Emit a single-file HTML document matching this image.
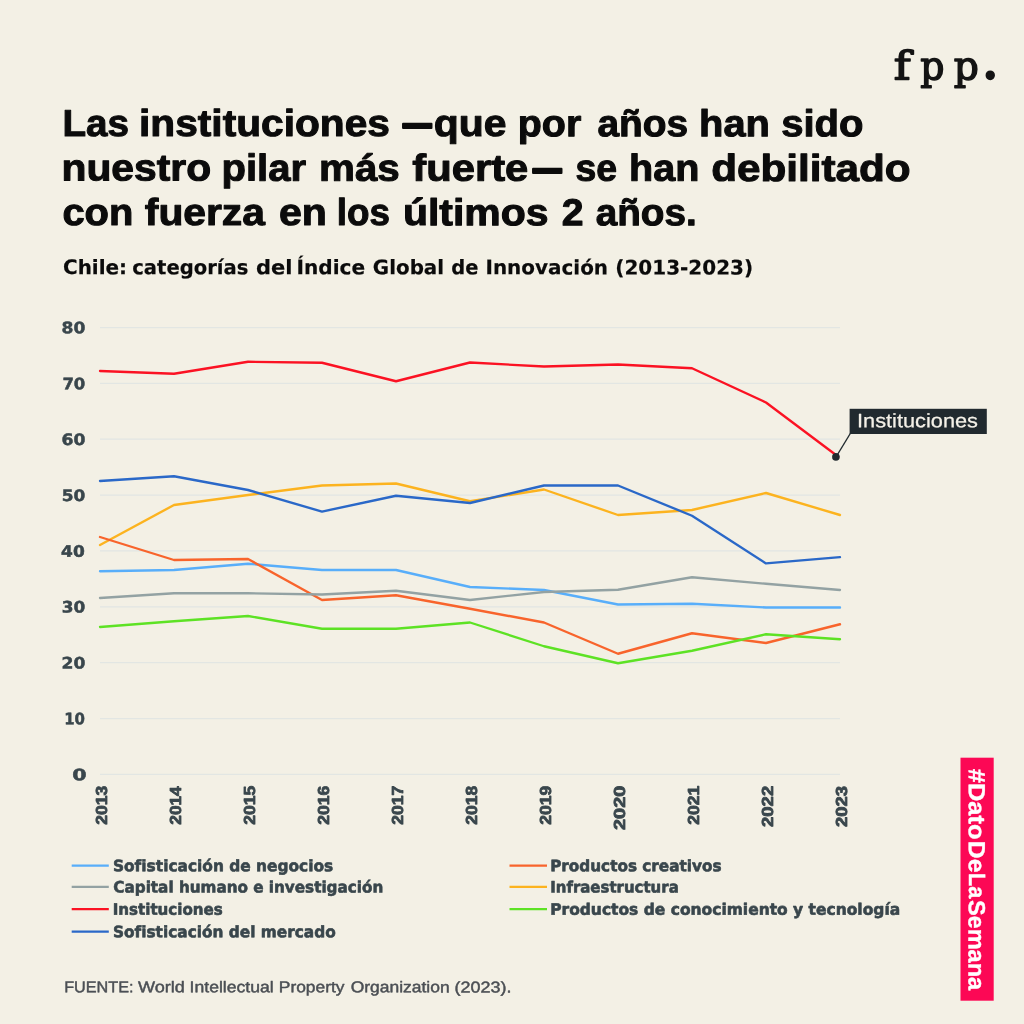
<!DOCTYPE html>
<html lang="es"><head><meta charset="utf-8"><title>Dato de la semana</title>
<style>
html,body{margin:0;padding:0;background:#f3f0e5;}
body{width:1024px;height:1024px;overflow:hidden;position:relative;font-family:"Liberation Sans",sans-serif;}
svg{position:absolute;left:0;top:0;display:block}
</style></head><body>
<svg width="1024" height="1024" viewBox="0 0 1024 1024">
<rect width="1024" height="1024" fill="#f3f0e5"/>
<text id="logo" transform="translate(944.0,79.6) rotate(0.03)" font-family="'DejaVu Serif','Liberation Serif',serif" font-weight="normal" font-size="39.5" fill="#141414" stroke="#141414" stroke-width="1.5" stroke-linejoin="round"><tspan x="-50.28" y="0" textLength="16.85" lengthAdjust="spacingAndGlyphs">f</tspan><tspan x="-23.68" y="0" textLength="24.22" lengthAdjust="spacingAndGlyphs">p</tspan><tspan x="9.71" y="0" textLength="25.07" lengthAdjust="spacingAndGlyphs">p</tspan><tspan x="36.39" font-size="63.5" y="-1.1" textLength="19.50" lengthAdjust="spacingAndGlyphs">.</tspan></text>
<g id="title">
<text transform="translate(463.55,136.10) rotate(0.03)" font-family="'Liberation Sans',sans-serif" font-weight="bold" font-size="37.6" fill="#0b0b0b" stroke="#0b0b0b" stroke-width="1.0" stroke-linejoin="round"><tspan x="-401.08" textLength="66.61" lengthAdjust="spacingAndGlyphs">Las</tspan> <tspan x="-324.54" textLength="250.85" lengthAdjust="spacingAndGlyphs">instituciones</tspan> <tspan x="-60.55" textLength="28.50" lengthAdjust="spacingAndGlyphs" stroke-width="2.6">—</tspan><tspan x="-29.78" textLength="72.66" lengthAdjust="spacingAndGlyphs">que</tspan> <tspan x="54.28" textLength="63.45" lengthAdjust="spacingAndGlyphs">por</tspan> <tspan x="133.87" textLength="90.71" lengthAdjust="spacingAndGlyphs">años</tspan> <tspan x="235.51" textLength="70.85" lengthAdjust="spacingAndGlyphs">han</tspan> <tspan x="317.65" textLength="82.33" lengthAdjust="spacingAndGlyphs">sido</tspan></text>
<text transform="translate(486.62,180.75) rotate(0.03)" font-family="'Liberation Sans',sans-serif" font-weight="bold" font-size="37.6" fill="#0b0b0b" stroke="#0b0b0b" stroke-width="1.0" stroke-linejoin="round"><tspan x="-425.12" textLength="149.59" lengthAdjust="spacingAndGlyphs">nuestro</tspan> <tspan x="-265.08" textLength="84.52" lengthAdjust="spacingAndGlyphs">pilar</tspan> <tspan x="-167.60" textLength="80.79" lengthAdjust="spacingAndGlyphs">más</tspan> <tspan x="-74.33" textLength="115.97" lengthAdjust="spacingAndGlyphs">fuerte</tspan><tspan x="46.37" textLength="28.50" lengthAdjust="spacingAndGlyphs" stroke-width="2.6">—</tspan> <tspan x="88.88" textLength="41.58" lengthAdjust="spacingAndGlyphs">se</tspan> <tspan x="142.45" textLength="70.32" lengthAdjust="spacingAndGlyphs">han</tspan> <tspan x="224.61" textLength="199.41" lengthAdjust="spacingAndGlyphs">debilitado</tspan></text>
<text transform="translate(378.95,225.10) rotate(0.03)" font-family="'Liberation Sans',sans-serif" font-weight="bold" font-size="37.6" fill="#0b0b0b" stroke="#0b0b0b" stroke-width="1.0" stroke-linejoin="round"><tspan x="-316.55" textLength="70.90" lengthAdjust="spacingAndGlyphs">con</tspan> <tspan x="-234.15" textLength="120.15" lengthAdjust="spacingAndGlyphs">fuerza</tspan> <tspan x="-99.98" textLength="47.96" lengthAdjust="spacingAndGlyphs">en</tspan> <tspan x="-42.22" textLength="53.12" lengthAdjust="spacingAndGlyphs">los</tspan> <tspan x="24.00" textLength="145.60" lengthAdjust="spacingAndGlyphs">últimos</tspan> <tspan x="182.77" textLength="21.81" lengthAdjust="spacingAndGlyphs">2</tspan> <tspan x="216.72" textLength="101.03" lengthAdjust="spacingAndGlyphs">años.</tspan></text>
</g>
<g id="subtitle">
<text transform="translate(407.70,274.30) rotate(0.03)" font-family="'DejaVu Sans','Liberation Sans',sans-serif" font-weight="bold" font-size="20.0" fill="#0b0b0b" stroke="#0b0b0b" stroke-width="0.2" stroke-linejoin="round"><tspan x="-344.70" textLength="64.08" lengthAdjust="spacingAndGlyphs">Chile:</tspan> <tspan x="-275.48" textLength="116.12" lengthAdjust="spacingAndGlyphs">categorías</tspan> <tspan x="-151.79" textLength="36.45" lengthAdjust="spacingAndGlyphs">del</tspan> <tspan x="-111.16" textLength="68.58" lengthAdjust="spacingAndGlyphs">Índice</tspan> <tspan x="-34.84" textLength="71.21" lengthAdjust="spacingAndGlyphs">Global</tspan> <tspan x="43.52" textLength="27.14" lengthAdjust="spacingAndGlyphs">de</tspan> <tspan x="77.80" textLength="122.57" lengthAdjust="spacingAndGlyphs">Innovación</tspan> <tspan x="207.60" textLength="137.81" lengthAdjust="spacingAndGlyphs">(2013-2023)</tspan></text>
</g>
<g id="grid">
<line x1="100" x2="840" y1="327.50" y2="327.50" stroke="#e2e6e3" stroke-width="1.25"/>
<text transform="translate(61.53,333.30) rotate(0.03) scale(1.0829,1)" font-family="'DejaVu Sans','Liberation Sans',sans-serif" font-weight="bold" font-size="15.8" fill="#39464c" stroke="#39464c" stroke-width="0.5" stroke-linejoin="round">80</text>
<line x1="100" x2="840" y1="383.36" y2="383.36" stroke="#e2e6e3" stroke-width="1.25"/>
<text transform="translate(62.38,389.16) rotate(0.03) scale(1.0436,1)" font-family="'DejaVu Sans','Liberation Sans',sans-serif" font-weight="bold" font-size="15.8" fill="#39464c" stroke="#39464c" stroke-width="0.5" stroke-linejoin="round">70</text>
<line x1="100" x2="840" y1="439.22" y2="439.22" stroke="#e2e6e3" stroke-width="1.25"/>
<text transform="translate(61.43,445.02) rotate(0.03) scale(1.0877,1)" font-family="'DejaVu Sans','Liberation Sans',sans-serif" font-weight="bold" font-size="15.8" fill="#39464c" stroke="#39464c" stroke-width="0.5" stroke-linejoin="round">60</text>
<line x1="100" x2="840" y1="495.08" y2="495.08" stroke="#e2e6e3" stroke-width="1.25"/>
<text transform="translate(61.78,500.88) rotate(0.03) scale(1.0711,1)" font-family="'DejaVu Sans','Liberation Sans',sans-serif" font-weight="bold" font-size="15.8" fill="#39464c" stroke="#39464c" stroke-width="0.5" stroke-linejoin="round">50</text>
<line x1="100" x2="840" y1="550.94" y2="550.94" stroke="#e2e6e3" stroke-width="1.25"/>
<text transform="translate(61.09,556.74) rotate(0.03) scale(1.0755,1)" font-family="'DejaVu Sans','Liberation Sans',sans-serif" font-weight="bold" font-size="15.8" fill="#39464c" stroke="#39464c" stroke-width="0.5" stroke-linejoin="round">40</text>
<line x1="100" x2="840" y1="606.80" y2="606.80" stroke="#e2e6e3" stroke-width="1.25"/>
<text transform="translate(61.75,612.60) rotate(0.03) scale(1.0726,1)" font-family="'DejaVu Sans','Liberation Sans',sans-serif" font-weight="bold" font-size="15.8" fill="#39464c" stroke="#39464c" stroke-width="0.5" stroke-linejoin="round">30</text>
<line x1="100" x2="840" y1="662.66" y2="662.66" stroke="#e2e6e3" stroke-width="1.25"/>
<text transform="translate(61.49,668.46) rotate(0.03) scale(1.0850,1)" font-family="'DejaVu Sans','Liberation Sans',sans-serif" font-weight="bold" font-size="15.8" fill="#39464c" stroke="#39464c" stroke-width="0.5" stroke-linejoin="round">20</text>
<line x1="100" x2="840" y1="718.52" y2="718.52" stroke="#e2e6e3" stroke-width="1.25"/>
<text transform="translate(64.18,724.32) rotate(0.03) scale(0.9456,1)" font-family="'DejaVu Sans','Liberation Sans',sans-serif" font-weight="bold" font-size="15.8" fill="#39464c" stroke="#39464c" stroke-width="0.5" stroke-linejoin="round">10</text>
<line x1="100" x2="840" y1="774.38" y2="774.38" stroke="#e2e6e3" stroke-width="1.25"/>
<text transform="translate(72.28,780.18) rotate(0.03) scale(1.3057,1)" font-family="'DejaVu Sans','Liberation Sans',sans-serif" font-weight="bold" font-size="15.8" fill="#39464c" stroke="#39464c" stroke-width="0.5" stroke-linejoin="round">0</text>
</g>
<g id="series" fill="none" stroke-width="2.35" stroke-linejoin="round" stroke-linecap="round">
<polyline stroke="#fcb31f" points="100.0,545.00 174.0,505.00 248.0,495.00 322.0,485.50 396.0,483.50 470.0,501.25 544.0,489.50 618.0,515.00 692.0,510.00 766.0,493.00 840.0,515.00"/>
<polyline stroke="#58aefa" points="100.0,571.25 174.0,570.00 248.0,563.75 322.0,570.00 396.0,570.00 470.0,587.00 544.0,590.00 618.0,604.50 692.0,603.75 766.0,607.50 840.0,607.50"/>
<polyline stroke="#f8642c" points="100.0,537.00 174.0,560.00 248.0,559.00 322.0,600.00 396.0,595.25 470.0,608.75 544.0,622.50 618.0,653.75 692.0,633.25 766.0,643.00 840.0,624.25"/>
<polyline stroke="#93a2a3" points="100.0,598.00 174.0,593.25 248.0,593.25 322.0,594.50 396.0,590.75 470.0,600.00 544.0,592.00 618.0,589.75 692.0,577.25 766.0,583.75 840.0,590.00"/>
<polyline stroke="#5de224" points="100.0,627.00 174.0,621.25 248.0,616.00 322.0,628.75 396.0,628.75 470.0,622.50 544.0,646.25 618.0,663.25 692.0,650.75 766.0,634.25 840.0,639.25"/>
<polyline stroke="#2a68c8" points="100.0,481.00 174.0,476.25 248.0,490.00 322.0,511.60 396.0,495.75 470.0,503.00 544.0,485.50 618.0,485.50 692.0,515.75 766.0,563.40 840.0,557.10"/>
<polyline stroke="#fb1223" points="100.0,371.00 174.0,373.75 248.0,361.75 322.0,362.75 396.0,381.25 470.0,362.50 544.0,366.50 618.0,364.50 692.0,368.25 766.0,402.50 838.3,456.70"/>
</g>
<line x1="836" y1="457" x2="850.3" y2="433.5" stroke="#212a2f" stroke-width="1.4"/>
<circle cx="835.9" cy="456.9" r="3.8" fill="#212a2f"/>
<rect x="849.6" y="408.8" width="137.2" height="25.2" fill="#212a2f"/>
<text transform="translate(857.05,427.30) rotate(0.03) scale(1.1218,1)" font-family="'Liberation Sans',sans-serif" font-weight="normal" font-size="19.4" fill="#f4f1e8" stroke="#f4f1e8" stroke-width="0.25" stroke-linejoin="round">Instituciones</text>
<g id="xlabels">
<text transform="translate(107.00,824.67) rotate(-89.97) scale(1.0913,1)" font-family="'Liberation Sans',sans-serif" font-weight="bold" font-size="16.0" fill="#39464c" stroke="#39464c" stroke-width="0.8" stroke-linejoin="round">2013</text>
<text transform="translate(181.00,824.67) rotate(-89.97) scale(1.0766,1)" font-family="'Liberation Sans',sans-serif" font-weight="bold" font-size="16.0" fill="#39464c" stroke="#39464c" stroke-width="0.8" stroke-linejoin="round">2014</text>
<text transform="translate(255.00,824.67) rotate(-89.97) scale(1.0888,1)" font-family="'Liberation Sans',sans-serif" font-weight="bold" font-size="16.0" fill="#39464c" stroke="#39464c" stroke-width="0.8" stroke-linejoin="round">2015</text>
<text transform="translate(329.00,824.67) rotate(-89.97) scale(1.0913,1)" font-family="'Liberation Sans',sans-serif" font-weight="bold" font-size="16.0" fill="#39464c" stroke="#39464c" stroke-width="0.8" stroke-linejoin="round">2016</text>
<text transform="translate(403.00,824.68) rotate(-89.97) scale(1.0962,1)" font-family="'Liberation Sans',sans-serif" font-weight="bold" font-size="16.0" fill="#39464c" stroke="#39464c" stroke-width="0.8" stroke-linejoin="round">2017</text>
<text transform="translate(477.00,824.67) rotate(-89.97) scale(1.0888,1)" font-family="'Liberation Sans',sans-serif" font-weight="bold" font-size="16.0" fill="#39464c" stroke="#39464c" stroke-width="0.8" stroke-linejoin="round">2018</text>
<text transform="translate(551.00,824.67) rotate(-89.97) scale(1.0913,1)" font-family="'Liberation Sans',sans-serif" font-weight="bold" font-size="16.0" fill="#39464c" stroke="#39464c" stroke-width="0.8" stroke-linejoin="round">2019</text>
<text transform="translate(625.00,830.00) rotate(-89.97) scale(1.2443,1)" font-family="'Liberation Sans',sans-serif" font-weight="bold" font-size="16.0" fill="#39464c" stroke="#39464c" stroke-width="0.8" stroke-linejoin="round">2020</text>
<text transform="translate(699.00,824.67) rotate(-89.97) scale(1.0888,1)" font-family="'Liberation Sans',sans-serif" font-weight="bold" font-size="16.0" fill="#39464c" stroke="#39464c" stroke-width="0.8" stroke-linejoin="round">2021</text>
<text transform="translate(773.00,826.99) rotate(-89.97) scale(1.1591,1)" font-family="'Liberation Sans',sans-serif" font-weight="bold" font-size="16.0" fill="#39464c" stroke="#39464c" stroke-width="0.8" stroke-linejoin="round">2022</text>
<text transform="translate(847.00,826.99) rotate(-89.97) scale(1.1565,1)" font-family="'Liberation Sans',sans-serif" font-weight="bold" font-size="16.0" fill="#39464c" stroke="#39464c" stroke-width="0.8" stroke-linejoin="round">2023</text>
</g>
<g id="legend">
<line x1="71.7" x2="108.8" y1="865.6" y2="865.6" stroke="#58aefa" stroke-width="2.2"/>
<text transform="translate(112.95,871.15) rotate(0.03) scale(0.9758,1)" font-family="'DejaVu Sans','Liberation Sans',sans-serif" font-weight="bold" font-size="15.8" fill="#39464c" stroke="#39464c" stroke-width="0.6" stroke-linejoin="round">Sofisticación de negocios</text>
<line x1="71.7" x2="108.8" y1="886.9" y2="886.9" stroke="#93a2a3" stroke-width="2.2"/>
<text transform="translate(113.34,892.45) rotate(0.03) scale(0.9630,1)" font-family="'DejaVu Sans','Liberation Sans',sans-serif" font-weight="bold" font-size="15.8" fill="#39464c" stroke="#39464c" stroke-width="0.6" stroke-linejoin="round">Capital humano e investigación</text>
<line x1="71.7" x2="108.8" y1="909.1" y2="909.1" stroke="#fb1223" stroke-width="2.2"/>
<text transform="translate(112.67,914.65) rotate(0.03) scale(0.9562,1)" font-family="'DejaVu Sans','Liberation Sans',sans-serif" font-weight="bold" font-size="15.8" fill="#39464c" stroke="#39464c" stroke-width="0.6" stroke-linejoin="round">Instituciones</text>
<line x1="71.7" x2="108.8" y1="931.6" y2="931.6" stroke="#2a68c8" stroke-width="2.2"/>
<text transform="translate(112.96,937.15) rotate(0.03) scale(0.9719,1)" font-family="'DejaVu Sans','Liberation Sans',sans-serif" font-weight="bold" font-size="15.8" fill="#39464c" stroke="#39464c" stroke-width="0.6" stroke-linejoin="round">Sofisticación del mercado</text>
<line x1="509.5" x2="547" y1="865.6" y2="865.6" stroke="#f8642c" stroke-width="2.2"/>
<text transform="translate(550.15,871.15) rotate(0.03) scale(0.9663,1)" font-family="'DejaVu Sans','Liberation Sans',sans-serif" font-weight="bold" font-size="15.8" fill="#39464c" stroke="#39464c" stroke-width="0.6" stroke-linejoin="round">Productos creativos</text>
<line x1="509.5" x2="547" y1="886.9" y2="886.9" stroke="#fcb31f" stroke-width="2.2"/>
<text transform="translate(550.18,892.45) rotate(0.03) scale(0.9479,1)" font-family="'DejaVu Sans','Liberation Sans',sans-serif" font-weight="bold" font-size="15.8" fill="#39464c" stroke="#39464c" stroke-width="0.6" stroke-linejoin="round">Infraestructura</text>
<line x1="509.5" x2="547" y1="909.1" y2="909.1" stroke="#5de224" stroke-width="2.2"/>
<text transform="translate(550.14,914.65) rotate(0.03) scale(0.9810,1)" font-family="'DejaVu Sans','Liberation Sans',sans-serif" font-weight="bold" font-size="15.8" fill="#39464c" stroke="#39464c" stroke-width="0.6" stroke-linejoin="round">Productos de conocimiento y tecnología</text>
</g>
<g id="footer">
<text transform="translate(287.65,992.30) rotate(0.03)" font-family="'Liberation Sans',sans-serif" font-weight="normal" font-size="15.7" fill="#4b4f54" stroke="#4b4f54" stroke-width="0.45" stroke-linejoin="round"><tspan x="-223.48" textLength="69.29" lengthAdjust="spacingAndGlyphs">FUENTE:</tspan> <tspan x="-149.67" textLength="46.89" lengthAdjust="spacingAndGlyphs">World</tspan> <tspan x="-98.06" textLength="84.10" lengthAdjust="spacingAndGlyphs">Intellectual</tspan> <tspan x="-8.87" textLength="65.73" lengthAdjust="spacingAndGlyphs">Property</tspan> <tspan x="62.99" textLength="98.98" lengthAdjust="spacingAndGlyphs">Organization</tspan> <tspan x="166.95" textLength="56.80" lengthAdjust="spacingAndGlyphs">(2023).</tspan></text>
</g>
<rect x="960.5" y="757.7" width="33.2" height="243.0" fill="#fc0855"/>
<text transform="translate(968.7,769) rotate(90.03)" font-family="'Liberation Sans',sans-serif" font-weight="bold" font-size="23.4" fill="#ffffff" stroke="#ffffff" stroke-linejoin="round" stroke-width="0.4"><tspan x="-0.25" textLength="70.78" lengthAdjust="spacingAndGlyphs">#Dato</tspan><tspan x="71.82" textLength="31.56" lengthAdjust="spacingAndGlyphs">De</tspan><tspan x="103.90" textLength="25.32" lengthAdjust="spacingAndGlyphs">La</tspan><tspan x="130.93" textLength="90.23" lengthAdjust="spacingAndGlyphs">Semana</tspan></text>
</svg>
</body></html>
